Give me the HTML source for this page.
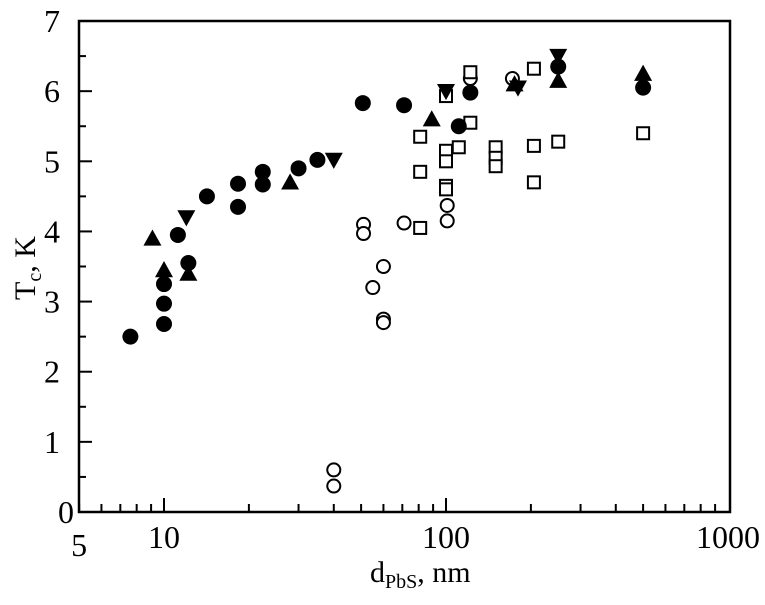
<!DOCTYPE html>
<html><head><meta charset="utf-8"><style>
body{margin:0;background:#fff}
svg text{font-family:"Liberation Serif",serif;fill:#000}
</style></head><body>
<svg id="chart" width="765" height="600" viewBox="0 0 765 600" xmlns="http://www.w3.org/2000/svg">
<rect x="79" y="21" width="651" height="491" fill="none" stroke="#000" stroke-width="2.5"/>
<g id="ticks"></g>
<g id="marks"></g>
<text x="370" y="582" font-size="30">d<tspan font-size="20" dy="6">PbS</tspan><tspan dy="-6">, nm</tspan></text>
<text transform="translate(35,300) rotate(-90)" font-size="30">T<tspan font-size="20" dy="6">c</tspan><tspan dy="-6">, K</tspan></text>
</svg>
<script>
const yTicks=[0,1,2,3,4,5,6,7];
const xTickLabels=[5,10,100,1000];
const filledCircleX=[7.6,10,10,10,11.2,12.2,14.2,18.3,18.3,22.4,22.4,30,35,50.7,71,111,122,250,500];
const filledCircleY=[2.5,3.25,2.97,2.68,3.95,3.55,4.5,4.35,4.68,4.85,4.67,4.9,5.02,5.83,5.8,5.5,5.98,6.35,6.05];
const upTriX=[9.1,10,12.2,28,89,175,250,500];
const upTriY=[3.9,3.45,3.4,4.7,5.6,6.1,6.15,6.25];
const downTriX=[12,40,100,180,250];
const downTriY=[4.2,5.02,6.0,6.05,6.5];
const openCircleX=[40,40,51,51,55,60,60,60,71,101,101,122,172];
const openCircleY=[0.6,0.37,4.1,3.97,3.2,3.5,2.75,2.7,4.12,4.15,4.37,6.18,6.18];
const squareX=[81,81,81,100,100,100,100,100,111,122,122,150,150,150,205,205,205,250,500];
const squareY=[5.35,4.85,4.05,5.93,5.15,5.0,4.65,4.6,5.2,6.27,5.55,5.2,5.05,4.93,6.32,5.22,4.7,5.28,5.4];

const NS="http://www.w3.org/2000/svg";
const xs=v=>164+282*(Math.log10(v)-1);
const ys=v=>512-70.14*v;
const tg=document.getElementById('ticks'), mg=document.getElementById('marks');
function mk(t,a,p){const e=document.createElementNS(NS,t);for(const k in a)e.setAttribute(k,a[k]);p.appendChild(e);return e;}
// y ticks
yTicks.forEach(v=>{
 const l=mk('line',{x1:79,x2:92,y1:ys(v),y2:ys(v),stroke:'#000','stroke-width':2},tg);
 
 
 if(v<7){const m=mk('line',{x1:79,x2:86,y1:ys(v+0.5),y2:ys(v+0.5),stroke:'#000','stroke-width':2},tg);
 
 }
 const t=mk('text',{x:v===0?58:44,y:ys(v)+11,'font-size':32},tg);t.textContent=v;
 
 
});
// x ticks
for(let d=1;d<=3;d++)for(let k=1;k<10;k++){
 const v=k*Math.pow(10,d-1)*1;const val=k*Math.pow(10,d-1);
 if(val<5||val>1000)continue;
 const major=(k===1);
 const l=mk('line',{x1:xs(val),x2:xs(val),y1:512,y2:major?498:504,stroke:'#000','stroke-width':2},tg);
 
 
}
xTickLabels.forEach(v=>{
 const t=mk('text',{x:xs(v),y:v===5?556:548,'font-size':32,'text-anchor':'middle'},tg);t.textContent=v;
 
 
});
function tri(x,y,up){const s=9;return up?`${x},${y-s} ${x-s},${y+s*0.8} ${x+s},${y+s*0.8}`:`${x},${y+s} ${x-s},${y-s*0.8} ${x+s},${y-s*0.8}`;}
openCircleX.forEach((v,i)=>{const e=mk('circle',{cx:xs(v),cy:ys(openCircleY[i]),r:6.5,fill:'#fff',stroke:'#000','stroke-width':2},mg);
 
 });
squareX.forEach((v,i)=>{const e=mk('rect',{x:xs(v)-6,y:ys(squareY[i])-6,width:12,height:12,fill:'#fff',stroke:'#000','stroke-width':2},mg);
 
 });
filledCircleX.forEach((v,i)=>{const e=mk('circle',{cx:xs(v),cy:ys(filledCircleY[i]),r:8,fill:'#000'},mg);
 
 });
upTriX.forEach((v,i)=>{const e=mk('polygon',{points:tri(xs(v),ys(upTriY[i]),true),fill:'#000'},mg);
 
 });
downTriX.forEach((v,i)=>{const e=mk('polygon',{points:tri(xs(v),ys(downTriY[i]),false),fill:'#000'},mg);
 
 });
</script>
</body></html>
